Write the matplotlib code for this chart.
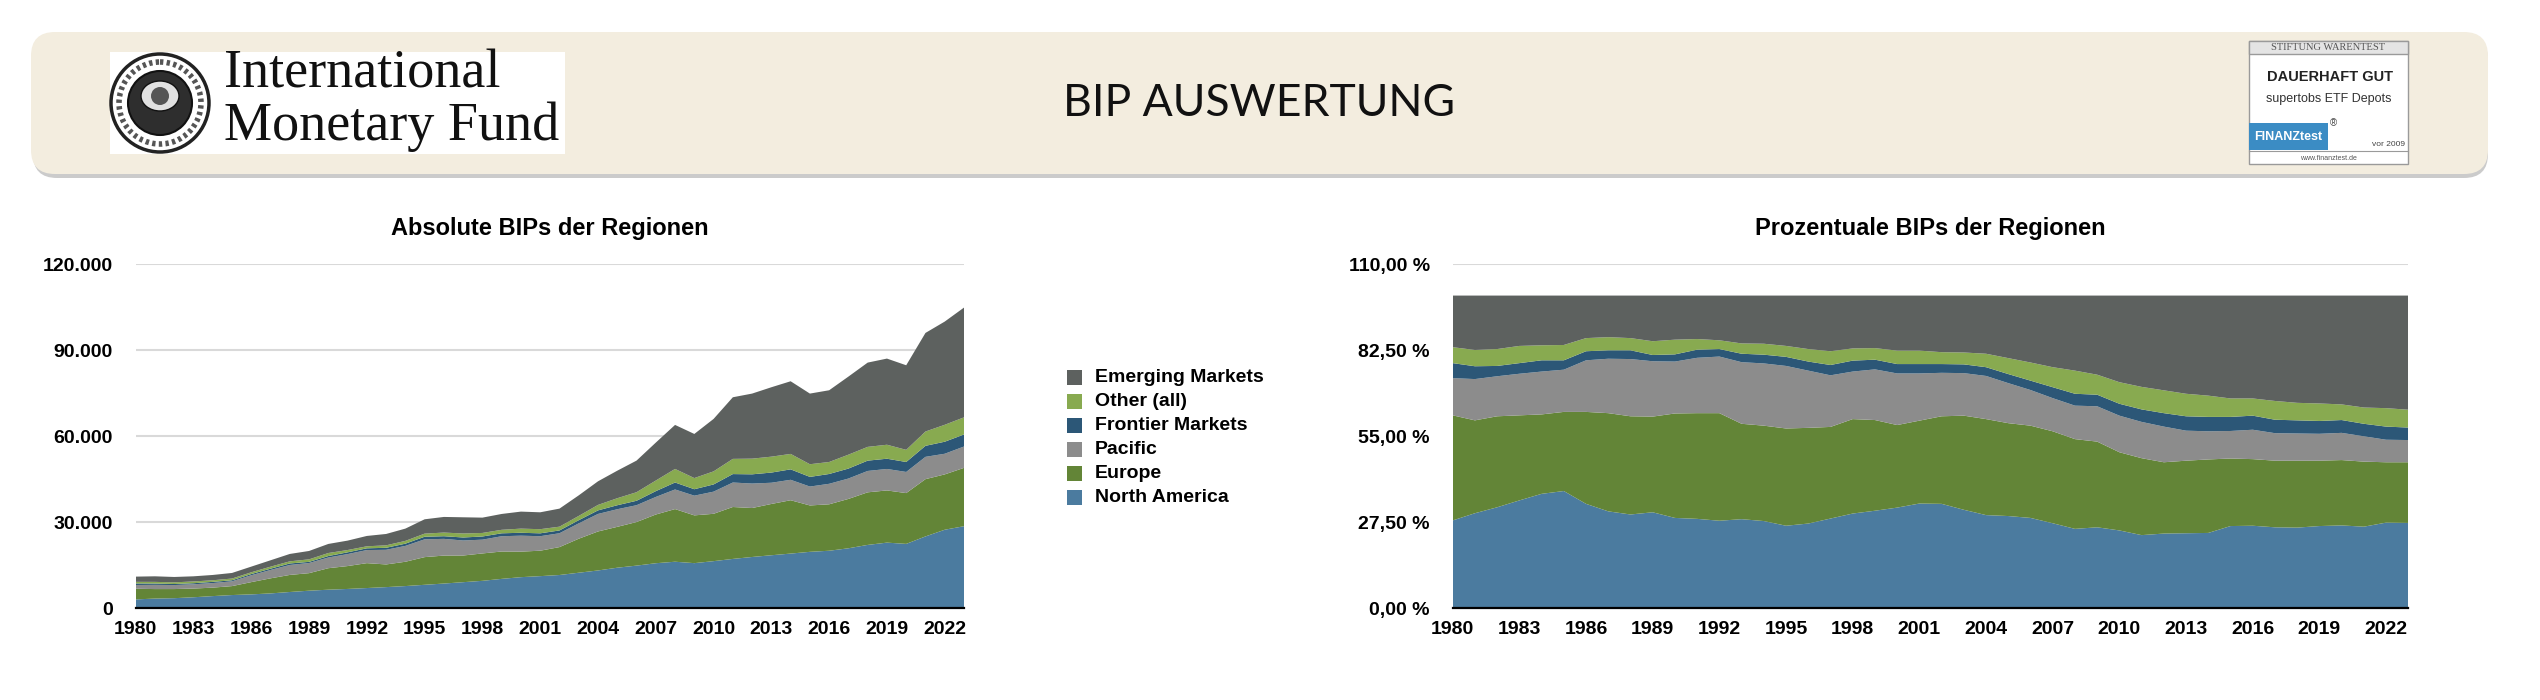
import numpy as np
import matplotlib
matplotlib.use("Agg")
import matplotlib.pyplot as plt
from matplotlib import patches
from matplotlib.ticker import FuncFormatter

## BIP Auswertung: absolute and percentage GDP by region (IMF data)

years = list(range(1980, 2024))

# total GDP of all regions (absolute chart top line)
total_gdp = [11050, 11160, 10930, 11160, 11630, 12330, 14540, 16750, 18960, 20000,
             22450, 23610, 25240, 25930, 27800, 31050, 31870, 31750, 31630, 32910,
             33730, 33490, 34770, 39400, 44300, 48000, 51520, 57800, 63970, 60820,
             66060, 73620, 74900, 77110, 79200, 74900, 76060, 80830, 85710, 87110,
             84780, 96060, 100020, 104900]

# regional shares in percent
north_america = [28.1, 30.4, 32.3, 34.5, 36.6, 37.5, 33.4, 31.0, 30.0, 30.7,
                 28.9, 28.6, 28.0, 28.5, 27.9, 26.4, 27.1, 28.7, 30.3, 31.2,
                 32.2, 33.5, 33.4, 31.5, 29.8, 29.5, 28.9, 27.2, 25.4, 25.9,
                 24.9, 23.4, 23.9, 24.0, 24.1, 26.3, 26.4, 25.9, 25.8, 26.3,
                 26.5, 26.1, 27.4, 27.3]
europe = [33.6, 29.7, 29.1, 27.2, 25.4, 25.3, 29.4, 31.4, 31.4, 30.6,
          33.4, 33.8, 34.4, 30.5, 30.5, 31.1, 30.6, 29.3, 30.2, 29.0,
          26.4, 26.5, 28.0, 30.1, 30.7, 29.7, 29.5, 29.4, 28.7, 27.4,
          25.0, 24.6, 22.8, 23.2, 23.5, 21.6, 21.3, 21.3, 21.4, 20.9,
          20.9, 20.8, 19.3, 19.4]
pacific = [11.9, 13.2, 12.8, 13.3, 13.7, 13.5, 16.5, 17.4, 18.3, 17.7,
           16.6, 17.7, 18.1, 19.7, 19.9, 20.0, 18.3, 16.5, 15.2, 16.2,
           16.5, 15.1, 13.9, 13.6, 13.8, 12.8, 11.4, 10.6, 10.7, 11.3,
           11.7, 11.6, 11.4, 9.6, 9.0, 8.8, 9.4, 8.8, 8.7, 8.6,
           8.7, 8.1, 7.2, 7.1]
frontier = [4.8, 4.1, 3.3, 3.4, 3.6, 3.0, 2.9, 2.7, 2.8, 2.0,
            2.3, 2.6, 2.4, 2.7, 2.8, 2.9, 2.9, 3.3, 3.5, 3.1,
            3.0, 3.0, 2.8, 2.8, 2.8, 2.9, 3.0, 3.5, 3.8, 3.7,
            3.8, 4.0, 4.3, 4.6, 4.6, 4.5, 4.5, 4.3, 4.2, 4.1,
            4.1, 4.0, 4.2, 4.0]
other = [5.1, 5.2, 5.4, 5.5, 4.8, 4.9, 4.2, 4.2, 3.9, 4.4,
         4.7, 3.4, 2.8, 3.3, 3.5, 3.5, 4.0, 4.4, 3.9, 3.7,
         4.3, 4.3, 3.8, 3.8, 4.3, 5.1, 5.8, 6.4, 7.4, 6.4,
         6.9, 7.2, 7.3, 7.2, 6.8, 5.9, 5.5, 6.0, 5.6, 5.6,
         5.0, 5.2, 5.9, 5.7]
emerging = [16.5, 17.4, 17.1, 16.1, 15.9, 15.8, 13.6, 13.3, 13.6, 14.6,
            14.1, 13.9, 14.3, 15.3, 15.4, 16.1, 17.1, 17.8, 16.9, 16.8,
            17.6, 17.6, 18.1, 18.2, 18.6, 20.0, 21.4, 22.9, 24.0, 25.3,
            27.7, 29.2, 30.3, 31.4, 32.0, 32.9, 32.9, 33.7, 34.3, 34.5,
            34.8, 35.8, 36.0, 36.5]

labels = ['North America', 'Europe', 'Pacific', 'Frontier Markets', 'Other (all)', 'Emerging Markets']
colors = ['#4b7b9f', '#638537', '#8c8c8c', '#2c5777', '#88aa50', '#5d615f']

shares = np.array([north_america, europe, pacific, frontier, other, emerging])
pct = shares / shares.sum(axis=0) * 100
absolute = pct / 100 * np.array(total_gdp)

W, H = 2540, 700
fig = plt.figure(figsize=(W / 100, H / 100), dpi=100, facecolor='white')
sans = ['Liberation Sans', 'DejaVu Sans']
serif = ['Liberation Serif', 'DejaVu Serif']

# background axes in pixel coordinates for banner, logos and legend
bg = fig.add_axes([0, 0, 1, 1], zorder=-5)
bg.set_xlim(0, W)
bg.set_ylim(H, 0)
bg.axis('off')

# banner with shadow
bg.add_patch(patches.FancyBboxPatch((33, 36), 2455, 142, boxstyle='round,pad=0,rounding_size=24',
                                    fc='#a9a9a9', ec='none', alpha=0.6))
bg.add_patch(patches.FancyBboxPatch((31, 32), 2457, 142, boxstyle='round,pad=0,rounding_size=24',
                                    fc='#f3eddf', ec='none'))
bg.text(1259, 104, 'BIP AUSWERTUNG', ha='center', va='center', fontsize=32,
        family=['Lato', 'DejaVu Sans'], color='#111111')

# IMF logo
bg.add_patch(patches.Rectangle((110, 52), 455, 102, fc='white', ec='none'))
bg.add_patch(patches.Circle((160, 103), 49, fc='white', ec='#222222', lw=2.5))
bg.add_patch(patches.Circle((160, 103), 41, fc='none', ec='#555555', lw=4, ls=(0, (0.6, 0.6))))
bg.add_patch(patches.Circle((160, 103), 32, fc='#2e2e2e', ec='#111111', lw=1.5))
bg.add_patch(patches.Ellipse((160, 96), 38, 30, fc='#e0e0e0', ec='#111111', lw=1))
bg.add_patch(patches.Circle((160, 96), 9, fc='#555555', ec='none'))
bg.text(224, 88, 'International', ha='left', va='baseline', fontsize=39,
        family=serif, color='#111111')
bg.text(224, 140, 'Monetary Fund', ha='left', va='baseline', fontsize=39,
        family=serif, color='#111111')

# Finanztest badge
bg.add_patch(patches.Rectangle((2249, 41), 159, 123, fc='white', ec='#9a9a9a', lw=1))
bg.add_patch(patches.Rectangle((2249, 41), 159, 13, fc='#e4e4e4', ec='#9a9a9a', lw=1))
bg.text(2328, 48, 'STIFTUNG WARENTEST', ha='center', va='center', fontsize=7.5,
        family=serif, color='#555555')
bg.text(2330, 77, 'DAUERHAFT GUT', ha='center', va='center', fontsize=10.5,
        family=sans, weight='bold', color='#222222')
bg.text(2329, 99, 'supertobs ETF Depots', ha='center', va='center', fontsize=9,
        family=sans, color='#333333')
bg.add_patch(patches.Rectangle((2249, 123), 79, 27, fc='#3b8cc4', ec='none'))
bg.text(2288, 137, 'FINANZtest', ha='center', va='center', fontsize=9,
        family=sans, weight='bold', color='white')
bg.text(2333, 123, '®', ha='center', va='center', fontsize=7, family=sans, color='#444444')
bg.text(2405, 145, 'vor 2009', ha='right', va='center', fontsize=6, family=sans, color='#444444')
bg.plot([2249, 2408], [151, 151], color='#9a9a9a', lw=0.8)
bg.text(2328, 158, 'www.finanztest.de', ha='center', va='center', fontsize=5,
        family=sans, color='#555555')

# legend between the charts
for k, i in enumerate(range(len(labels) - 1, -1, -1)):
    yc = 377 + 24 * k
    bg.add_patch(patches.Rectangle((1067, yc - 7.5), 15, 15, fc=colors[i], ec='none'))
    bg.text(1095, yc, labels[i], ha='left', va='center', fontsize=14,
            family=sans, weight='bold', color='black')


def style_axes(ax, title, ymax, yticks, fmt, title_x):
    ax.set_xlim(years[0], years[-1])
    ax.set_ylim(0, ymax)
    ax.set_yticks(yticks)
    ax.set_xticks(years[::3])
    ax.yaxis.set_major_formatter(FuncFormatter(fmt))
    ax.grid(axis='y', color='#d9d9d9', lw=1.5)
    ax.set_axisbelow(True)
    for s in ['top', 'right', 'left']:
        ax.spines[s].set_visible(False)
    ax.spines['bottom'].set_color('black')
    ax.spines['bottom'].set_linewidth(1.6)
    ax.spines['bottom'].set_zorder(5)
    ax.tick_params(length=0)
    ax.tick_params(axis='y', pad=16.5)
    ax.tick_params(axis='x', pad=9)
    for t in ax.get_xticklabels() + ax.get_yticklabels():
        t.set_fontsize(14)
        t.set_fontweight('bold')
        t.set_family(sans)
    bg.text(title_x, 228, title, ha='center', va='center', fontsize=17,
            family=sans, weight='bold', color='black')


ax1 = fig.add_axes([135.7 / W, (H - 608.3) / H, 828.3 / W, 344 / H])
ax1.stackplot(years, absolute, colors=colors, lw=0)
style_axes(ax1, 'Absolute BIPs der Regionen', 120000, [0, 30000, 60000, 90000, 120000],
           lambda v, p: f'{v:,.0f}'.replace(',', '.'), 550)

ax2 = fig.add_axes([1452.7 / W, (H - 608.3) / H, 955.6 / W, 344 / H])
ax2.stackplot(years, pct, colors=colors, lw=0)
style_axes(ax2, 'Prozentuale BIPs der Regionen', 110, [0, 27.5, 55, 82.5, 110],
           lambda v, p: f'{v:.2f} %'.replace('.', ','), 1930)

fig.savefig('out.png', dpi=100, facecolor='white')
